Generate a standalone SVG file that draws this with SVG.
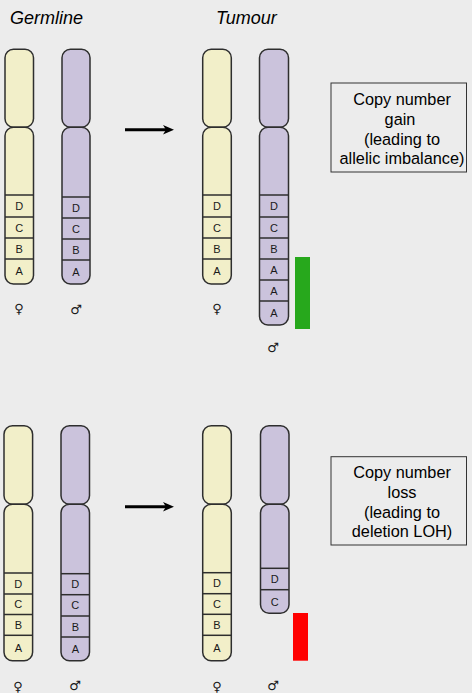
<svg xmlns="http://www.w3.org/2000/svg" width="472" height="693" viewBox="0 0 472 693">
<style>
.bg{fill:#ececec}
.y{fill:#f2efc9;stroke:#2e2e2e;stroke-width:1.5}
.p{fill:#cbc3dc;stroke:#2e2e2e;stroke-width:1.5}
.band{stroke:#2e2e2e;stroke-width:1.5}
.lbl{font-family:"Liberation Sans",Arial,sans-serif;font-size:11px;fill:#1a1a1a;text-anchor:middle}
.sym{font-family:"DejaVu Sans",sans-serif;font-size:13px;fill:#1a1a1a;text-anchor:middle}
.title{font-family:"Liberation Sans",Arial,sans-serif;font-size:18px;font-style:italic;fill:#000}
.box{fill:none;stroke:#333;stroke-width:1}
.bt{font-family:"Liberation Sans",Arial,sans-serif;font-size:16.3px;fill:#000;text-anchor:middle}
.arrow{stroke:#000;stroke-width:3;fill:none}
</style>
<defs>
<marker id="ah" markerUnits="userSpaceOnUse" markerWidth="12" markerHeight="11" refX="3" refY="5" orient="auto" viewBox="0 0 12 10">
<path d="M0,0.3 L11,5 L0,9.7 L3,5 z" fill="#000"/>
</marker>
</defs>
<rect class="bg" x="0" y="0" width="472" height="693"/>

<text class="title" x="10" y="24">Germline</text>
<text class="title" x="216" y="24">Tumour</text>

<g id="g1-female">
<rect class="y" x="5" y="49.3" width="28.5" height="78" rx="8.5"/>
<rect class="y" x="5" y="127.3" width="28.5" height="156.7" rx="8.5"/>
<line class="band" x1="5" y1="195" x2="33.5" y2="195"/>
<line class="band" x1="5" y1="217" x2="33.5" y2="217"/>
<line class="band" x1="5" y1="238" x2="33.5" y2="238"/>
<line class="band" x1="5" y1="259" x2="33.5" y2="259"/>
<text class="lbl" x="19.2" y="210">D</text>
<text class="lbl" x="19.2" y="231.5">C</text>
<text class="lbl" x="19.2" y="252.5">B</text>
<text class="lbl" x="19.2" y="275">A</text>
<text class="sym" x="19" y="313">♀</text>
</g>
<g id="g1-male">
<rect class="p" x="62" y="49.3" width="28" height="78" rx="8.5"/>
<rect class="p" x="62" y="127.3" width="28" height="156.7" rx="8.5"/>
<line class="band" x1="62" y1="197" x2="90" y2="197"/>
<line class="band" x1="62" y1="218" x2="90" y2="218"/>
<line class="band" x1="62" y1="239" x2="90" y2="239"/>
<line class="band" x1="62" y1="260" x2="90" y2="260"/>
<text class="lbl" x="76" y="211.5">D</text>
<text class="lbl" x="76" y="232.5">C</text>
<text class="lbl" x="76" y="253.5">B</text>
<text class="lbl" x="76" y="276">A</text>
<text class="sym" x="76" y="314">♂</text>
</g>
<g id="t1-female">
<rect class="y" x="202.7" y="49.3" width="28.6" height="78" rx="8.5"/>
<rect class="y" x="202.7" y="127.3" width="28.6" height="156.7" rx="8.5"/>
<line class="band" x1="202.7" y1="195" x2="231.3" y2="195"/>
<line class="band" x1="202.7" y1="217" x2="231.3" y2="217"/>
<line class="band" x1="202.7" y1="238" x2="231.3" y2="238"/>
<line class="band" x1="202.7" y1="259" x2="231.3" y2="259"/>
<text class="lbl" x="217" y="210">D</text>
<text class="lbl" x="217" y="231.5">C</text>
<text class="lbl" x="217" y="252.5">B</text>
<text class="lbl" x="217" y="275">A</text>
<text class="sym" x="217" y="313">♀</text>
</g>
<g id="t1-male">
<rect class="p" x="259.5" y="49.3" width="29" height="78" rx="8.5"/>
<rect class="p" x="259.5" y="127.3" width="29" height="197.7" rx="8.5"/>
<line class="band" x1="259.5" y1="195" x2="288.5" y2="195"/>
<line class="band" x1="259.5" y1="217" x2="288.5" y2="217"/>
<line class="band" x1="259.5" y1="238" x2="288.5" y2="238"/>
<line class="band" x1="259.5" y1="259" x2="288.5" y2="259"/>
<line class="band" x1="259.5" y1="280" x2="288.5" y2="280"/>
<line class="band" x1="259.5" y1="301" x2="288.5" y2="301"/>
<text class="lbl" x="274" y="210">D</text>
<text class="lbl" x="274" y="231.5">C</text>
<text class="lbl" x="274" y="252.5">B</text>
<text class="lbl" x="274" y="273.5">A</text>
<text class="lbl" x="274" y="294.5">A</text>
<text class="lbl" x="274" y="317">A</text>
<text class="sym" x="273" y="351.5">♂</text>
</g>
<rect id="gain-bar" x="295" y="257" width="15" height="72" fill="#27a81c"/>
<g id="box-gain">
<rect class="box" x="331" y="83" width="135.5" height="89"/>
<text class="bt" x="402" y="104.5">Copy number</text>
<text class="bt" x="400" y="124.5">gain</text>
<text class="bt" x="402" y="144.5">(leading to</text>
<text class="bt" x="402" y="164">allelic imbalance)</text>
</g>

<g id="g2-female">
<rect class="y" x="4" y="425.7" width="28.6" height="78.6" rx="8.5"/>
<rect class="y" x="4" y="504.3" width="28.6" height="156.4" rx="8.5"/>
<line class="band" x1="4" y1="573" x2="32.6" y2="573"/>
<line class="band" x1="4" y1="594" x2="32.6" y2="594"/>
<line class="band" x1="4" y1="614.5" x2="32.6" y2="614.5"/>
<line class="band" x1="4" y1="635.3" x2="32.6" y2="635.3"/>
<text class="lbl" x="18.3" y="587.5">D</text>
<text class="lbl" x="18.3" y="608.3">C</text>
<text class="lbl" x="18.3" y="629">B</text>
<text class="lbl" x="18.3" y="652">A</text>
<text class="sym" x="18" y="690.5">♀</text>
</g>
<g id="g2-male">
<rect class="p" x="61" y="425.7" width="28.5" height="78.6" rx="8.5"/>
<rect class="p" x="61" y="504.3" width="28.5" height="156.4" rx="8.5"/>
<line class="band" x1="61" y1="573.7" x2="89.5" y2="573.7"/>
<line class="band" x1="61" y1="594.7" x2="89.5" y2="594.7"/>
<line class="band" x1="61" y1="616" x2="89.5" y2="616"/>
<line class="band" x1="61" y1="637" x2="89.5" y2="637"/>
<text class="lbl" x="75.3" y="588.2">D</text>
<text class="lbl" x="75.3" y="609.3">C</text>
<text class="lbl" x="75.3" y="630.5">B</text>
<text class="lbl" x="75.3" y="653">A</text>
<text class="sym" x="75" y="690">♂</text>
</g>
<g id="t2-female">
<rect class="y" x="202.7" y="425.7" width="28.6" height="78.6" rx="8.5"/>
<rect class="y" x="202.7" y="504.3" width="28.6" height="156.4" rx="8.5"/>
<line class="band" x1="202.7" y1="572.7" x2="231.3" y2="572.7"/>
<line class="band" x1="202.7" y1="593.7" x2="231.3" y2="593.7"/>
<line class="band" x1="202.7" y1="614.3" x2="231.3" y2="614.3"/>
<line class="band" x1="202.7" y1="635.3" x2="231.3" y2="635.3"/>
<text class="lbl" x="217" y="587.2">D</text>
<text class="lbl" x="217" y="608">C</text>
<text class="lbl" x="217" y="628.8">B</text>
<text class="lbl" x="217" y="652">A</text>
<text class="sym" x="217" y="690.5">♀</text>
</g>
<g id="t2-male">
<rect class="p" x="260.5" y="425.7" width="28.5" height="78.6" rx="8.5"/>
<rect class="p" x="260.5" y="504.3" width="28.5" height="109" rx="8.5"/>
<line class="band" x1="260.5" y1="568.3" x2="289" y2="568.3"/>
<line class="band" x1="260.5" y1="589.7" x2="289" y2="589.7"/>
<text class="lbl" x="274.7" y="583">D</text>
<text class="lbl" x="274.7" y="605.5">C</text>
<text class="sym" x="273" y="690">♂</text>
</g>
<rect id="loss-bar" x="293" y="613" width="15" height="47.7" fill="#ff0000"/>
<g id="box-loss">
<rect class="box" x="331" y="456.7" width="135.5" height="88.3"/>
<text class="bt" x="402" y="477.5">Copy number</text>
<text class="bt" x="402" y="497.5">loss</text>
<text class="bt" x="402" y="517.5">(leading to</text>
<text class="bt" x="402" y="537">deletion LOH)</text>
</g>

<g id="connectors">
<line class="arrow" x1="125" y1="129.7" x2="166" y2="129.7" marker-end="url(#ah)"/>
<line class="arrow" x1="125" y1="506.7" x2="166" y2="506.7" marker-end="url(#ah)"/>
</g>
</svg>
